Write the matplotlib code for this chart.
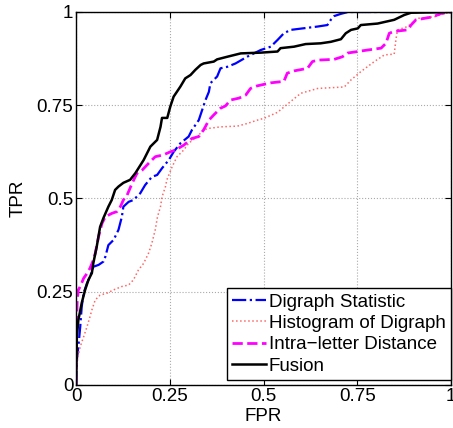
import matplotlib
matplotlib.use("Agg")
import matplotlib.pyplot as plt

plt.rcParams['font.family'] = ['Liberation Sans', 'DejaVu Sans']

# ROC points (FPR, TPR)
digraph_fpr = [0, 0.002, 0.006, 0.011, 0.015, 0.020, 0.029, 0.037, 0.046, 0.060, 0.073, 0.078,
               0.086, 0.100, 0.113, 0.122, 0.126, 0.140, 0.153, 0.171, 0.184, 0.202, 0.216, 0.229,
               0.247, 0.260, 0.278, 0.300, 0.309, 0.327, 0.336, 0.345, 0.354, 0.358, 0.376, 0.385,
               0.403, 0.425, 0.456, 0.492, 0.519, 0.537, 0.554, 0.572, 0.644, 0.670, 0.679, 0.688,
               0.706, 0.725, 1.0]
digraph_tpr = [0, 0.067, 0.103, 0.156, 0.210, 0.246, 0.273, 0.290, 0.317, 0.322, 0.331, 0.344,
               0.375, 0.389, 0.416, 0.451, 0.478, 0.491, 0.496, 0.514, 0.536, 0.558, 0.563, 0.581,
               0.603, 0.625, 0.648, 0.666, 0.684, 0.710, 0.737, 0.764, 0.786, 0.809, 0.827, 0.849,
               0.853, 0.862, 0.880, 0.898, 0.907, 0.925, 0.943, 0.952, 0.961, 0.965, 0.979, 0.989,
               0.995, 1.0, 1.0]

hist_fpr = [0, 0.002, 0.004, 0.011, 0.020, 0.029, 0.037, 0.042, 0.051, 0.064, 0.082, 0.100,
            0.122, 0.140, 0.153, 0.166, 0.180, 0.193, 0.202, 0.211, 0.217, 0.225, 0.229, 0.238,
            0.242, 0.256, 0.269, 0.287, 0.300, 0.323, 0.340, 0.354, 0.385, 0.430, 0.456, 0.483,
            0.501, 0.537, 0.572, 0.599, 0.644, 0.715, 0.733, 0.759, 0.795, 0.822, 0.848, 0.853,
            0.857, 0.884, 0.911, 0.955, 0.982, 1.0]
hist_tpr = [0, 0.040, 0.070, 0.103, 0.129, 0.156, 0.183, 0.201, 0.228, 0.241, 0.246, 0.255,
            0.264, 0.268, 0.282, 0.308, 0.326, 0.353, 0.380, 0.416, 0.451, 0.478, 0.504, 0.531,
            0.550, 0.585, 0.612, 0.630, 0.648, 0.666, 0.684, 0.688, 0.692, 0.694, 0.701, 0.710,
            0.715, 0.731, 0.760, 0.782, 0.795, 0.799, 0.818, 0.840, 0.867, 0.885, 0.887, 0.929,
            0.952, 0.961, 0.983, 0.987, 0.996, 1.0]

intra_fpr = [0, 0, 0.002, 0.003, 0.006, 0.011, 0.020, 0.029, 0.037, 0.046, 0.051, 0.060, 0.069,
             0.078, 0.095, 0.109, 0.118, 0.126, 0.136, 0.149, 0.162, 0.176, 0.193, 0.211, 0.233,
             0.251, 0.265, 0.287, 0.309, 0.327, 0.340, 0.354, 0.367, 0.385, 0.398, 0.412, 0.434,
             0.452, 0.465, 0.483, 0.519, 0.554, 0.563, 0.581, 0.617, 0.630, 0.644, 0.688, 0.710,
             0.724, 0.751, 0.777, 0.813, 0.826, 0.835, 0.848, 0.884, 0.893, 0.906, 0.929, 0.951,
             0.973, 1.0]
intra_tpr = [0, 0.139, 0.193, 0.228, 0.255, 0.264, 0.286, 0.299, 0.313, 0.335, 0.353, 0.398, 0.433,
             0.451, 0.460, 0.465, 0.478, 0.496, 0.509, 0.540, 0.567, 0.576, 0.594, 0.612, 0.617,
             0.625, 0.630, 0.643, 0.661, 0.666, 0.684, 0.710, 0.724, 0.742, 0.748, 0.764, 0.769,
             0.777, 0.795, 0.802, 0.810, 0.814, 0.836, 0.842, 0.849, 0.867, 0.871, 0.873, 0.880,
             0.890, 0.894, 0.898, 0.903, 0.916, 0.943, 0.948, 0.952, 0.965, 0.979, 0.983, 0.987,
             0.996, 1.0]

fusion_fpr = [0, 0.002, 0.006, 0.015, 0.024, 0.033, 0.042, 0.046, 0.055, 0.064, 0.073, 0.086,
              0.095, 0.104, 0.113, 0.126, 0.144, 0.158, 0.180, 0.198, 0.216, 0.225, 0.229, 0.243,
              0.251, 0.260, 0.278, 0.291, 0.305, 0.318, 0.332, 0.340, 0.367, 0.376, 0.403, 0.439,
              0.492, 0.537, 0.545, 0.581, 0.612, 0.652, 0.679, 0.706, 0.719, 0.733, 0.751, 0.759,
              0.804, 0.848, 0.875, 0.893, 1.0]
fusion_tpr = [0, 0.129, 0.174, 0.220, 0.255, 0.282, 0.300, 0.327, 0.371, 0.424, 0.448, 0.478,
              0.496, 0.523, 0.532, 0.542, 0.550, 0.568, 0.603, 0.639, 0.657, 0.692, 0.716, 0.716,
              0.746, 0.773, 0.800, 0.822, 0.831, 0.845, 0.858, 0.862, 0.867, 0.873, 0.880, 0.889,
              0.891, 0.894, 0.903, 0.907, 0.914, 0.916, 0.920, 0.927, 0.943, 0.952, 0.956, 0.965,
              0.969, 0.979, 0.992, 0.998, 1.0]

ticks = [0, 0.25, 0.5, 0.75, 1]
tick_labels = ['0', '0.25', '0.5', '0.75', '1']

fig = plt.figure(figsize=(4.53, 4.28), dpi=100)
ax = fig.add_axes([0.168, 0.1005, 0.828, 0.8715])

ax.plot(digraph_fpr, digraph_tpr, '-.', color='#0000ff', lw=1.6, label='Digraph Statistic')
ax.plot(hist_fpr, hist_tpr, ':', color='#ff6666', lw=1.1, label='Histogram of Digraph')
ax.plot(intra_fpr, intra_tpr, '--', color='#ff00ff', lw=2.0, label='Intra\u2212letter Distance')
ax.plot(fusion_fpr, fusion_tpr, '-', color='black', lw=1.8, label='Fusion')

ax.set_xlim(0, 1)
ax.set_ylim(0, 1)
ax.set_xticks(ticks)
ax.set_xticklabels(tick_labels)
ax.set_yticks(ticks)
ax.set_yticklabels(tick_labels)
ax.tick_params(direction='in', labelsize=13.5, length=4, top=True, right=True,
               labeltop=False, labelright=False, pad=2)
ax.grid(True, linestyle=':', color='#aaaaaa', lw=0.8)
for s in ax.spines.values():
    s.set_linewidth(1.0)

ax.set_xlabel('FPR', fontsize=13.5, labelpad=2)
ax.set_ylabel('TPR', fontsize=13.5, labelpad=7)

leg = ax.legend(loc='lower right', bbox_to_anchor=(1.0, 0.013), borderaxespad=0,
                fontsize=13.5, fancybox=False, framealpha=1, edgecolor='black',
                handlelength=1.8, handletextpad=0.15, borderpad=0.3, labelspacing=0.22)
leg.get_frame().set_linewidth(1.0)

fig.savefig('out.png', dpi=100)
